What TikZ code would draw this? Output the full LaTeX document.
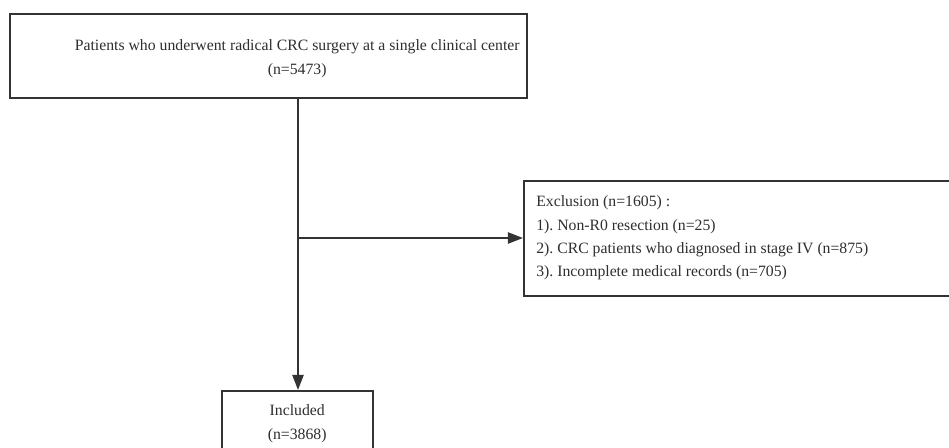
\documentclass[tikz,border=0pt]{standalone}
\usepackage{fontspec}
\setmainfont{Liberation Serif}
\usepackage{xcolor}
\usepackage{tikz}
\usetikzlibrary{arrows.meta, positioning, calc}
\definecolor{fcline}{HTML}{333333}
\definecolor{fctext}{HTML}{2E2E2E}
\frenchspacing

\begin{document}
\begin{tikzpicture}[
    box/.style={rectangle, draw=fcline, line width=1.5pt, fill=white, inner sep=0pt},
    txt/.style={font=\fontsize{11.2}{17}\selectfont, color=fctext, align=#1, inner sep=0pt},
    arrow/.style={-{Triangle[length=3.8mm, width=2.8mm]}, line width=1.5pt, draw=fcline}
]
\clip (0,0) rectangle (23.725,-11.2);

% Cohort
\node[box, minimum width=12.925cm, minimum height=2.1cm] (cohort) at (6.7125,-1.4) {};
\node[txt=center] (cohorttxt) at (7.43,-1.47) {Patients who underwent radical CRC surgery at a single clinical center\\(n=5473)};

% Exclusion
\node[box, minimum width=11.5cm, minimum height=2.875cm, anchor=north west] (excl) at (13.075,-4.5) {};
\node[txt=left, font=\fontsize{11.2}{16.6}\selectfont, anchor=west] (excltxt) at (13.4,-5.95) {Exclusion (n=1605) :\\1). Non-R0 resection (n=25)\\2). CRC patients who diagnosed in stage IV (n=875)\\3). Incomplete medical records (n=705)};

% Included
\node[box, minimum width=3.775cm, minimum height=2.5cm, anchor=north] (incl) at (7.4375,-9.75) {};
\node[txt=center] (incltxt) at (7.43,-10.6) {Included\\(n=3868)};

% Connectors
\coordinate (split) at (7.45,-5.95);
\draw[arrow] (cohort.south -| split) -- (incl.north -| split);
\draw[arrow] (split) -- (split -| excl.west);

\end{tikzpicture}
\end{document}
